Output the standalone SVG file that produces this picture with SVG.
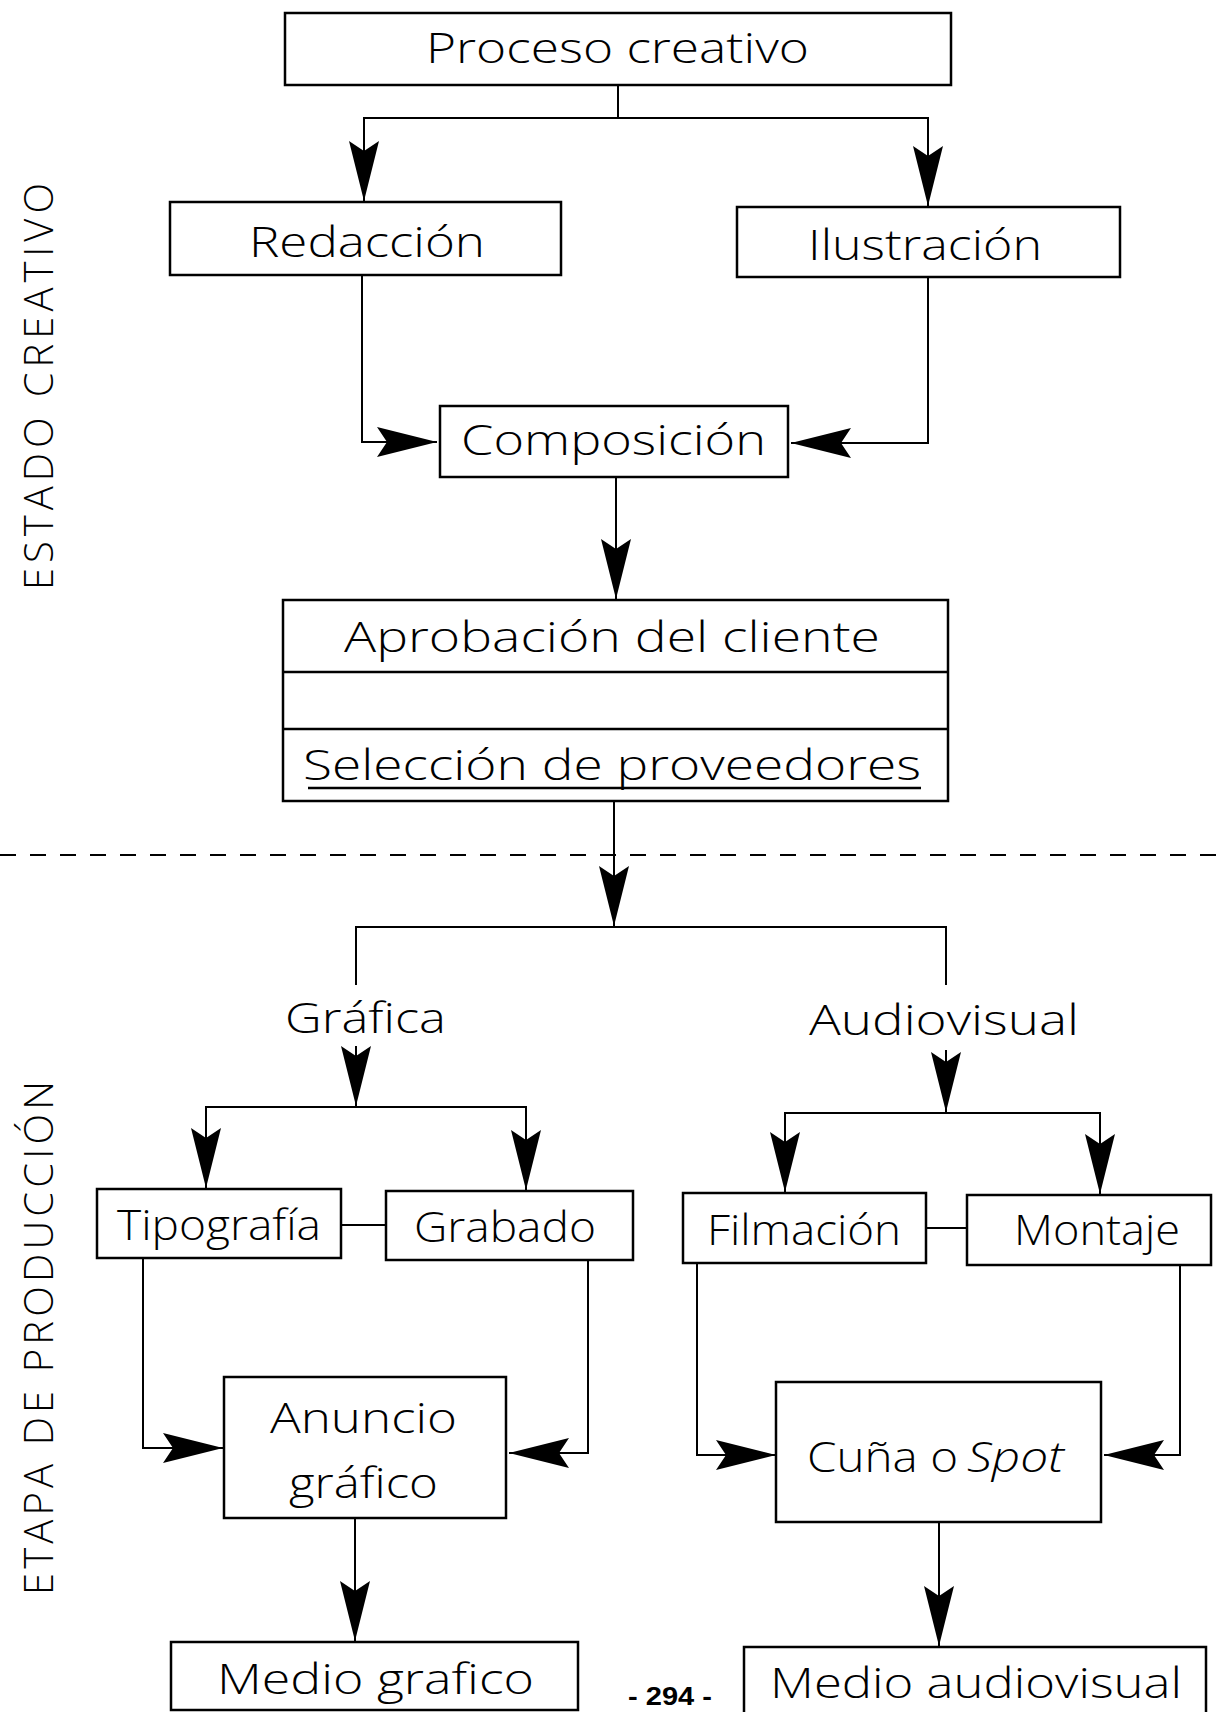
<svg xmlns="http://www.w3.org/2000/svg" width="1220" height="1712" viewBox="0 0 1220 1712">
<style>
.box{fill:none;stroke:#000;stroke-width:2.5}
.t{font-family:"Open Sans","DejaVu Sans",sans-serif;font-weight:300;font-size:43px;fill:#000}
.side{font-family:"Open Sans","DejaVu Sans",sans-serif;font-weight:300;font-size:40px;fill:#000}
.pg{font-family:"Liberation Sans Narrow","Liberation Sans",sans-serif;font-weight:bold;font-size:25px;fill:#000}
.c{fill:none;stroke:#000;stroke-width:2}
.sep{fill:none;stroke:#000;stroke-width:2;stroke-dasharray:16 14}
</style>
<defs>
<marker id="ah" markerUnits="userSpaceOnUse" viewBox="-62 -17 64 34" markerWidth="64" markerHeight="34" refX="0" refY="0" orient="auto">
<path d="M0,0 L-60,-15 L-50,0 L-60,15 Z" fill="#000"/>
</marker>
</defs>
<rect width="1220" height="1712" fill="#fff"/>

<g id="labels">
<text class="side" transform="translate(53,590) rotate(-90)" x="0" y="0" textLength="407" lengthAdjust="spacing">ESTADO CREATIVO</text>
<text class="side" transform="translate(53,1595) rotate(-90)" x="0" y="0" textLength="514" lengthAdjust="spacing">ETAPA DE PRODUCCIÓN</text>
<text class="pg" x="628" y="1705" textLength="84" lengthAdjust="spacingAndGlyphs">- 294 -</text>
</g>

<line class="sep" x1="0" y1="855" x2="1220" y2="855"/>

<g id="connectors">
<path class="c" d="M618,85 V118 H364 V201" marker-end="url(#ah)"/>
<path class="c" d="M618,118 H928 V206" marker-end="url(#ah)"/>
<path class="c" d="M362,275 V442 H437" marker-end="url(#ah)"/>
<path class="c" d="M928,277 V443 H791" marker-end="url(#ah)"/>
<path class="c" d="M616,477 V599" marker-end="url(#ah)"/>
<path class="c" d="M614,801 V926" marker-end="url(#ah)"/>
<path class="c" d="M356,985 V927 H946 V985"/>
<path class="c" d="M356,1046 V1106" marker-end="url(#ah)"/>
<path class="c" d="M356,1107 H206 V1188" marker-end="url(#ah)"/>
<path class="c" d="M356,1107 H526 V1190" marker-end="url(#ah)"/>
<path class="c" d="M946,1050 V1112" marker-end="url(#ah)"/>
<path class="c" d="M946,1113 H785 V1192" marker-end="url(#ah)"/>
<path class="c" d="M946,1113 H1100 V1194" marker-end="url(#ah)"/>
<path class="c" d="M341,1225 H386"/>
<path class="c" d="M926,1228 H967"/>
<path class="c" d="M143,1258 V1448 H223" marker-end="url(#ah)"/>
<path class="c" d="M588,1260 V1453 H509" marker-end="url(#ah)"/>
<path class="c" d="M697,1263 V1455 H776" marker-end="url(#ah)"/>
<path class="c" d="M1180,1265 V1455 H1104" marker-end="url(#ah)"/>
<path class="c" d="M355,1518 V1641" marker-end="url(#ah)"/>
<path class="c" d="M939,1522 V1646" marker-end="url(#ah)"/>
</g>

<g id="proceso">
<rect class="box" x="285" y="13" width="666" height="72"/>
<text class="t" x="426" y="63" textLength="383" lengthAdjust="spacingAndGlyphs">Proceso creativo</text>
</g>
<g id="redaccion">
<rect class="box" x="170" y="202" width="391" height="73"/>
<text class="t" x="249" y="257" textLength="236" lengthAdjust="spacingAndGlyphs">Redacción</text>
</g>
<g id="ilustracion">
<rect class="box" x="737" y="207" width="383" height="70"/>
<text class="t" x="808" y="260" textLength="234" lengthAdjust="spacingAndGlyphs">Ilustración</text>
</g>
<g id="composicion">
<rect class="box" x="440" y="406" width="348" height="71"/>
<text class="t" x="461" y="455" textLength="305" lengthAdjust="spacingAndGlyphs">Composición</text>
</g>
<g id="aprobacion">
<rect class="box" x="283" y="600" width="665" height="201"/>
<line class="box" x1="283" y1="672" x2="948" y2="672" stroke-width="3"/>
<line class="box" x1="283" y1="729" x2="948" y2="729" stroke-width="3"/>
<text class="t" x="344" y="652" textLength="536" lengthAdjust="spacingAndGlyphs">Aprobación del cliente</text>
<text class="t" x="303" y="780" textLength="618" lengthAdjust="spacingAndGlyphs">Selección de proveedores</text>
<line class="box" x1="308" y1="788" x2="921" y2="788"/>
</g>
<g id="grafica">
<text class="t" x="285" y="1033" textLength="161" lengthAdjust="spacingAndGlyphs">Gráfica</text>
</g>
<g id="audiovisual">
<text class="t" x="809" y="1035" textLength="270" lengthAdjust="spacingAndGlyphs">Audiovisual</text>
</g>
<g id="tipografia">
<rect class="box" x="97" y="1189" width="244" height="69"/>
<text class="t" x="117" y="1240" textLength="204" lengthAdjust="spacingAndGlyphs">Tipografía</text>
</g>
<g id="grabado">
<rect class="box" x="386" y="1191" width="247" height="69"/>
<text class="t" x="414" y="1242" textLength="182" lengthAdjust="spacingAndGlyphs">Grabado</text>
</g>
<g id="filmacion">
<rect class="box" x="683" y="1193" width="243" height="70"/>
<text class="t" x="707" y="1245" textLength="194" lengthAdjust="spacingAndGlyphs">Filmación</text>
</g>
<g id="montaje">
<rect class="box" x="967" y="1195" width="244" height="70"/>
<text class="t" x="1014" y="1245" textLength="166" lengthAdjust="spacingAndGlyphs">Montaje</text>
</g>
<g id="anuncio">
<rect class="box" x="224" y="1377" width="282" height="141"/>
<text class="t" x="270" y="1433" textLength="187" lengthAdjust="spacingAndGlyphs">Anuncio</text>
<text class="t" x="289" y="1498" textLength="149" lengthAdjust="spacingAndGlyphs">gráfico</text>
</g>
<g id="cuna">
<rect class="box" x="776" y="1382" width="325" height="140"/>
<text class="t" x="807" y="1472" textLength="151" lengthAdjust="spacingAndGlyphs">Cuña o</text>
<text class="t" x="967" y="1472" textLength="97" lengthAdjust="spacingAndGlyphs" font-style="italic">Spot</text>
</g>
<g id="medio-grafico">
<rect class="box" x="171" y="1642" width="407" height="68"/>
<text class="t" x="217" y="1694" textLength="317" lengthAdjust="spacingAndGlyphs">Medio grafico</text>
</g>
<g id="medio-audiovisual">
<rect class="box" x="744" y="1647" width="462" height="72"/>
<text class="t" x="770" y="1698" textLength="412" lengthAdjust="spacingAndGlyphs">Medio audiovisual</text>
</g>
</svg>
